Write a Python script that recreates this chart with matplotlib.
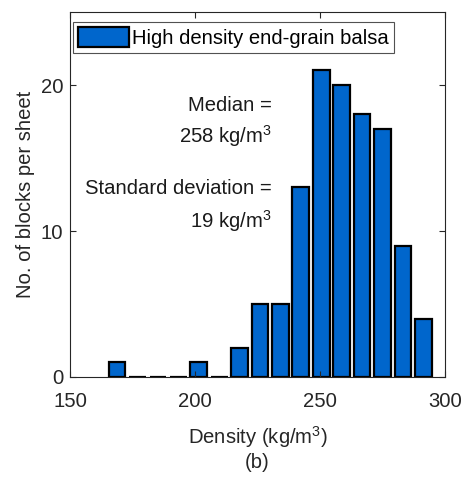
import matplotlib
matplotlib.use("Agg")
import matplotlib.pyplot as plt
import numpy as np

plt.rcParams['font.family'] = ['Liberation Sans', 'DejaVu Sans']
plt.rcParams['mathtext.fontset'] = 'custom'
plt.rcParams['mathtext.rm'] = 'Liberation Sans'
plt.rcParams['mathtext.it'] = 'Liberation Sans'

# histogram data (bin centres in kg/m^3, block counts)
bin_centers = [168.8, 177.0, 185.2, 193.3, 201.5, 209.7, 217.8, 226.0,
               234.2, 242.3, 250.5, 258.7, 266.8, 275.0, 283.2, 291.3]
counts = [1, 0, 0, 0, 1, 0, 2, 5, 5, 13, 21, 20, 18, 17, 9, 4]
bin_width = 8.17

xticks = [150, 200, 250, 300]
yticks = [0, 10, 20]

gray = '#262626'
fs = 14.6

fig = plt.figure(figsize=(4.64, 4.78), dpi=100)
ax = fig.add_axes([70 / 464, 1 - 377 / 478, 375 / 464, 365 / 478])

ax.bar(bin_centers, counts, width=bin_width * 0.82, color='#0066CC',
       edgecolor='black', linewidth=1.6, label='High density end-grain balsa')

ax.set_xlim(150, 300)
ax.set_ylim(0, 25)
ax.set_xticks(xticks)
ax.set_yticks(yticks)
ax.tick_params(direction='in', top=True, right=True, length=4, width=0.8,
               colors=gray, labelsize=fs)
ax.tick_params(axis='x', pad=11)
ax.tick_params(axis='y', pad=5)
for s in ax.spines.values():
    s.set_color(gray)
    s.set_linewidth(0.8)

ax.set_xlabel(r'Density (kg/m$^3$)', fontsize=fs, color=gray, labelpad=9)
ax.set_ylabel('No. of blocks per sheet', fontsize=fs, color=gray, labelpad=4)
fig.text(257 / 464, 1 - 463 / 478, '(b)', ha='center', va='center',
         fontsize=fs, color=gray)

tx = 230.8
tc = '#1a1a1a'
ax.text(tx, 18.57, 'Median =', ha='right', va='center', fontsize=fs, color=tc)
ax.text(tx, 16.5, r'258 kg/m$^3$', ha='right', va='center', fontsize=fs, color=tc)
ax.text(tx, 12.9, 'Standard deviation =', ha='right', va='center', fontsize=fs, color=tc)
ax.text(tx, 10.7, r'19 kg/m$^3$', ha='right', va='center', fontsize=fs, color=tc)

leg = ax.legend(loc='upper left', bbox_to_anchor=(3 / 375, 1 - 10 / 365),
                fontsize=fs, frameon=True, fancybox=False,
                edgecolor=gray, handlelength=2.5, handleheight=1.1,
                handletextpad=0.15, borderpad=0.25, borderaxespad=0)
leg.get_frame().set_linewidth(0.8)

fig.savefig('out.png', dpi=100)
